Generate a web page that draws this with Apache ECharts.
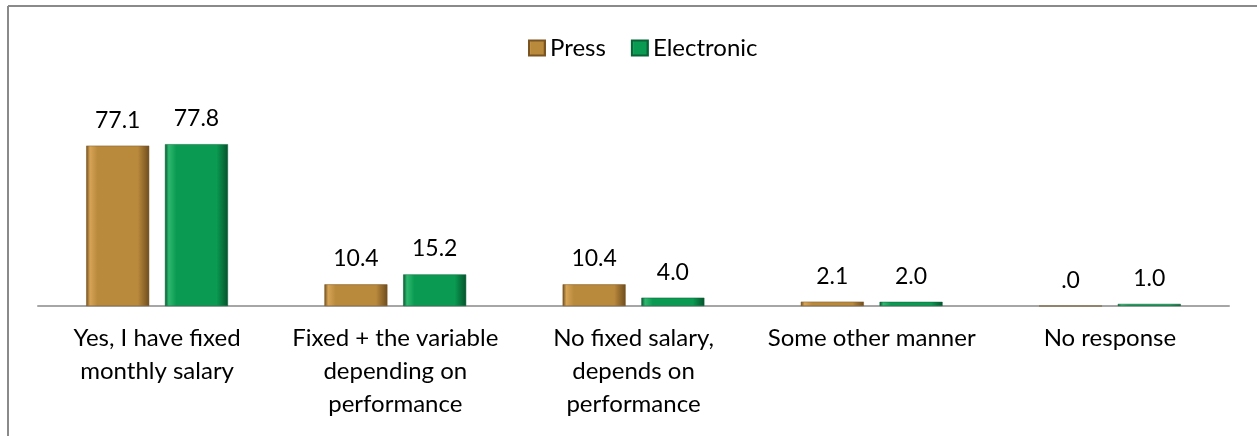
<!DOCTYPE html>
<html>
<head>
<meta charset="utf-8">
<script src="https://cdn.jsdelivr.net/npm/echarts@6/dist/echarts.min.js"></script>
<style>
    html, body { margin: 0; padding: 0; background: #fff; }
    #chart { width: 1257px; height: 436px; }
</style>
</head>
<body>
<div id="chart"></div>
<script>
var categories = [
    'Yes, I have fixed\nmonthly salary',
    'Fixed + the variable\ndepending on\nperformance',
    'No fixed salary,\ndepends on\nperformance',
    'Some other manner',
    'No response'
];
var pressValues = [77.1, 10.4, 10.4, 2.1, 0.0];
var electronicValues = [77.8, 15.2, 4.0, 2.0, 1.0];

var FONT = 'Lato';

window.addEventListener('load', function() {
    var chart = echarts.init(document.getElementById('chart'));

    // Excel-ish bevel: light left edge, dark right edge
    function bevel(light, main, dark) {
        return new echarts.graphic.LinearGradient(0, 0, 1, 0, [
            { offset: 0, color: dark },
            { offset: 0.06, color: light },
            { offset: 0.18, color: main },
            { offset: 0.82, color: main },
            { offset: 1, color: dark }
        ]);
    }

    function fmt(p) {
        return p.value.toFixed(1).replace(/^0\./, '.');
    }

    var labelStyle = {
        show: true,
        position: 'top',
        distance: 14,
        fontFamily: FONT,
        fontSize: 23,
        color: '#000',
        formatter: fmt
    };

    chart.setOption({
        animation: false,
        textStyle: { fontFamily: FONT },
        graphic: [
            { type: 'line', shape: { x1: 8, y1: 6, x2: 1257, y2: 6 }, style: { stroke: '#8a8a8a', lineWidth: 2 } },
            { type: 'line', shape: { x1: 8, y1: 6, x2: 8, y2: 436 }, style: { stroke: '#8a8a8a', lineWidth: 2 } }
        ],
        legend: {
            top: 31,
            left: 523,
            itemWidth: 16,
            itemHeight: 15,
            itemGap: 25,
            icon: 'rect',
            textStyle: { fontFamily: FONT, fontSize: 24, color: '#000', fontVariantLigatures: 'none' },
            data: ['Press', 'Electronic']
        },
        grid: {
            left: 38,
            right: 28,
            top: 98,
            bottom: 130
        },
        xAxis: {
            type: 'category',
            data: categories,
            axisTick: { show: false },
            axisLine: { lineStyle: { color: '#a6a6a6', width: 2 } },
            axisLabel: {
                interval: 0,
                margin: 16,
                fontFamily: FONT,
                fontSize: 24,
                lineHeight: 33,
                color: '#000'
            }
        },
        yAxis: {
            type: 'value',
            min: 0,
            max: 100,
            show: false
        },
        series: [{
            name: 'Press',
            type: 'bar',
            data: pressValues,
            barWidth: 63,
            barGap: '25%',
            itemStyle: {
                color: bevel('#d7a456', '#b9893c', '#6e4d1d'),
                borderColor: '#7a5522',
                borderWidth: 0.5
            },
            label: labelStyle
        }, {
            name: 'Electronic',
            type: 'bar',
            data: electronicValues,
            barWidth: 63,
            itemStyle: {
                color: bevel('#2fb86f', '#0a9a51', '#05532c'),
                borderColor: '#066336',
                borderWidth: 0.5
            },
            label: labelStyle
        }]
    });
});
</script>
</body>
</html>
